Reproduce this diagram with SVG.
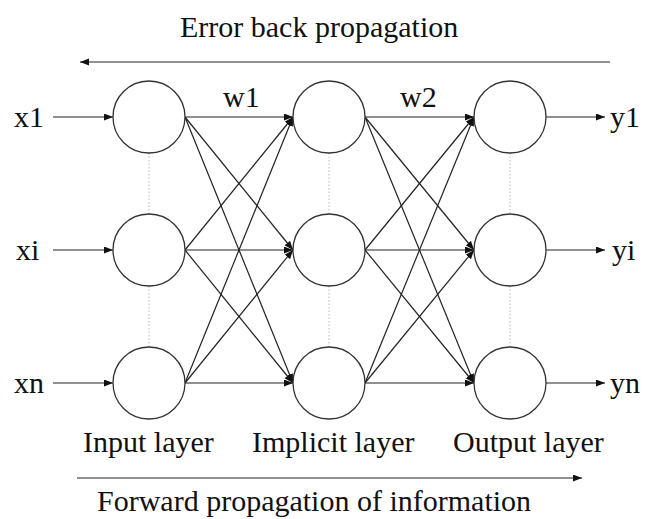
<svg xmlns="http://www.w3.org/2000/svg" width="649" height="519" viewBox="0 0 649 519">
<style>
text{font-family:"Liberation Serif","Times New Roman",serif;font-size:30px;fill:#111}
.node circle{fill:#fff;stroke:#333;stroke-width:1.3}
.edge{stroke:#222;stroke-width:1.2;fill:none}
.dot{stroke:#bbb;stroke-width:1;stroke-dasharray:1.5 2;fill:none}
</style>
<defs>
<marker id="ah" markerUnits="userSpaceOnUse" markerWidth="10" markerHeight="8" refX="9" refY="3.5" orient="auto">
<path d="M0,0 L9,3.5 L0,7 z" fill="#111"/>
</marker>
</defs>
<g id="titles">
<text x="180" y="37">Error back propagation</text>
<text x="97" y="511">Forward propagation of information</text>
<text x="83" y="452">Input layer</text>
<text x="252" y="452">Implicit layer</text>
<text x="453" y="452">Output layer</text>
<text x="223" y="107">w1</text>
<text x="400" y="107">w2</text>
<text x="14" y="127">x1</text>
<text x="16" y="260">xi</text>
<text x="14" y="393">xn</text>
<text x="610" y="127">y1</text>
<text x="612" y="260">yi</text>
<text x="610" y="393">yn</text>
</g>
<g id="connectors">
<line class="edge" x1="610" y1="62" x2="80" y2="62" marker-end="url(#ah)"/>
<line class="edge" x1="77" y1="478" x2="582" y2="478" marker-end="url(#ah)"/>
<line class="dot" x1="149" y1="153" x2="149" y2="214"/>
<line class="dot" x1="149" y1="286" x2="149" y2="347"/>
<line class="dot" x1="329" y1="153" x2="329" y2="214"/>
<line class="dot" x1="329" y1="286" x2="329" y2="347"/>
<line class="dot" x1="510" y1="153" x2="510" y2="214"/>
<line class="dot" x1="510" y1="286" x2="510" y2="347"/>
<line class="edge" x1="53" y1="117" x2="113" y2="117" marker-end="url(#ah)"/>
<line class="edge" x1="53" y1="250" x2="113" y2="250" marker-end="url(#ah)"/>
<line class="edge" x1="53" y1="383" x2="113" y2="383" marker-end="url(#ah)"/>
<line class="edge" x1="546" y1="117" x2="605" y2="117" marker-end="url(#ah)"/>
<line class="edge" x1="546" y1="250" x2="605" y2="250" marker-end="url(#ah)"/>
<line class="edge" x1="546" y1="383" x2="605" y2="383" marker-end="url(#ah)"/>
<line class="edge" x1="185" y1="117" x2="293" y2="117" marker-end="url(#ah)"/>
<line class="edge" x1="185" y1="117" x2="293" y2="250" marker-end="url(#ah)"/>
<line class="edge" x1="185" y1="117" x2="293" y2="383" marker-end="url(#ah)"/>
<line class="edge" x1="185" y1="250" x2="293" y2="117" marker-end="url(#ah)"/>
<line class="edge" x1="185" y1="250" x2="293" y2="250" marker-end="url(#ah)"/>
<line class="edge" x1="185" y1="250" x2="293" y2="383" marker-end="url(#ah)"/>
<line class="edge" x1="185" y1="383" x2="293" y2="117" marker-end="url(#ah)"/>
<line class="edge" x1="185" y1="383" x2="293" y2="250" marker-end="url(#ah)"/>
<line class="edge" x1="185" y1="383" x2="293" y2="383" marker-end="url(#ah)"/>
<line class="edge" x1="365" y1="117" x2="474" y2="117" marker-end="url(#ah)"/>
<line class="edge" x1="365" y1="117" x2="474" y2="250" marker-end="url(#ah)"/>
<line class="edge" x1="365" y1="117" x2="474" y2="383" marker-end="url(#ah)"/>
<line class="edge" x1="365" y1="250" x2="474" y2="117" marker-end="url(#ah)"/>
<line class="edge" x1="365" y1="250" x2="474" y2="250" marker-end="url(#ah)"/>
<line class="edge" x1="365" y1="250" x2="474" y2="383" marker-end="url(#ah)"/>
<line class="edge" x1="365" y1="383" x2="474" y2="117" marker-end="url(#ah)"/>
<line class="edge" x1="365" y1="383" x2="474" y2="250" marker-end="url(#ah)"/>
<line class="edge" x1="365" y1="383" x2="474" y2="383" marker-end="url(#ah)"/>
</g>
<g id="in1" class="node"><circle cx="149" cy="117" r="36"/></g>
<g id="ini" class="node"><circle cx="149" cy="250" r="36"/></g>
<g id="inn" class="node"><circle cx="149" cy="383" r="36"/></g>
<g id="h1" class="node"><circle cx="329" cy="117" r="36"/></g>
<g id="hi" class="node"><circle cx="329" cy="250" r="36"/></g>
<g id="hn" class="node"><circle cx="329" cy="383" r="36"/></g>
<g id="o1" class="node"><circle cx="510" cy="117" r="36"/></g>
<g id="oi" class="node"><circle cx="510" cy="250" r="36"/></g>
<g id="on" class="node"><circle cx="510" cy="383" r="36"/></g>
</svg>
